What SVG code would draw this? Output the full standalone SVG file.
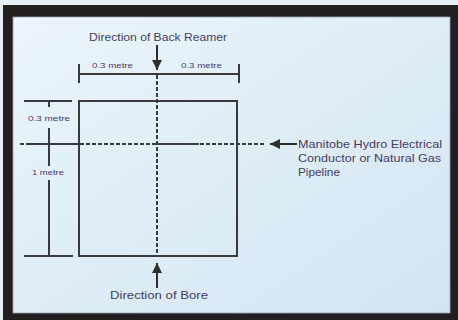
<svg xmlns="http://www.w3.org/2000/svg" width="458" height="320" viewBox="0 0 458 320">
<defs>
<linearGradient id="bg" x1="0" y1="0" x2="1" y2="1">
<stop offset="0" stop-color="#ebf5fa"/>
<stop offset="1" stop-color="#d3e4f1"/>
</linearGradient>
<marker id="ah" viewBox="0 0 10 10" refX="10" refY="5" markerWidth="6" markerHeight="5" orient="auto" markerUnits="strokeWidth">
<path d="M0,0 L10,5 L0,10 Z" fill="#2e2e2e"/>
</marker>
<style>
.ln{stroke:#3a3a3a;stroke-width:2;fill:none}
.ds{stroke:#3a3a3a;stroke-width:2;fill:none;stroke-dasharray:4 2}
.ar{stroke:#2e2e2e;stroke-width:2;fill:none;marker-end:url(#ah)}
.t{font-family:"Liberation Sans",Arial,sans-serif;fill:#463c66}
.big{font-size:10.5px}
.sm{font-size:7px}
</style>
</defs>
<rect x="0" y="0" width="458" height="320" fill="#e7eef4"/>
<rect x="3" y="5" width="455" height="315" fill="#231f20"/>
<rect x="13" y="17" width="437" height="296" fill="url(#bg)" stroke="#9aa3ab" stroke-width="0.8"/>

<g id="box">
<rect x="79" y="101" width="158" height="155" class="ln"/>
</g>

<g id="connectors">
<!-- centre lines -->
<line x1="157" y1="75" x2="157" y2="257" class="ds"/>
<line x1="20" y1="144" x2="266" y2="144" class="ds"/>
<line x1="30" y1="144" x2="79" y2="144" class="ln"/>
<line x1="157" y1="144" x2="199" y2="144" class="ln"/>
<!-- top dimension -->
<line x1="79" y1="74" x2="239" y2="74" class="ln"/>
<line x1="79" y1="64" x2="79" y2="83" class="ln"/>
<line x1="239" y1="64" x2="239" y2="83" class="ln"/>
<!-- left dimension -->
<line x1="24" y1="101" x2="72" y2="101" class="ln"/>
<line x1="24" y1="256" x2="73" y2="256" class="ln"/>
<line x1="49" y1="101" x2="49" y2="107" class="ln"/>
<line x1="49" y1="128" x2="49" y2="166" class="ln"/>
<line x1="49" y1="180" x2="49" y2="256" class="ln"/>
<!-- arrows -->
<line x1="157" y1="45" x2="157" y2="70" class="ar"/>
<line x1="157" y1="288" x2="157" y2="263" class="ar"/>
<line x1="297" y1="144" x2="270" y2="144" class="ar"/>
</g>

<g id="label-back-reamer">
<text x="89" y="41" class="t big" textLength="138" lengthAdjust="spacingAndGlyphs">Direction of Back Reamer</text>
</g>
<g id="label-bore">
<text x="110" y="299" class="t big" textLength="98" lengthAdjust="spacingAndGlyphs">Direction of Bore</text>
</g>
<g id="label-pipeline">
<text x="298" y="148" class="t big" textLength="144" lengthAdjust="spacingAndGlyphs">Manitobe Hydro Electrical</text>
<text x="298" y="162" class="t big" textLength="143" lengthAdjust="spacingAndGlyphs">Conductor or Natural Gas</text>
<text x="298" y="176" class="t big" textLength="42" lengthAdjust="spacingAndGlyphs">Pipeline</text>
</g>
<g id="dim-labels">
<text x="92" y="68" class="t sm" textLength="41" lengthAdjust="spacingAndGlyphs">0.3 metre</text>
<text x="181" y="68" class="t sm" textLength="41" lengthAdjust="spacingAndGlyphs">0.3 metre</text>
<text x="28" y="121" class="t sm" textLength="42" lengthAdjust="spacingAndGlyphs">0.3 metre</text>
<text x="32" y="175" class="t sm" textLength="32" lengthAdjust="spacingAndGlyphs">1 metre</text>
</g>
</svg>
